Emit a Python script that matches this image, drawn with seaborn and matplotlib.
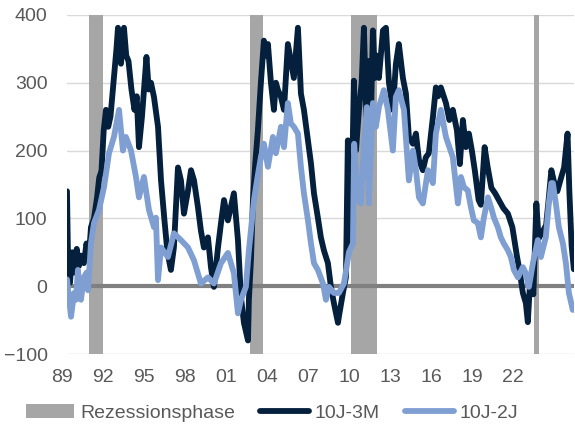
import pandas as pd
import seaborn as sns
import matplotlib.pyplot as plt
from matplotlib.patches import Patch
from matplotlib.lines import Line2D
from matplotlib.transforms import ScaledTranslation

# Zinsdifferenzen in Basispunkten
years_3m = [1989.00, 1989.07, 1989.20, 1989.35, 1989.50, 1989.65, 1989.80, 1989.93, 1990.13, 1990.30,
            1990.45, 1990.60, 1990.80, 1991.00, 1991.15, 1991.30, 1991.45, 1991.60, 1991.75, 1991.90,
            1992.10, 1992.30, 1992.40, 1992.60, 1992.80, 1992.95, 1993.10, 1993.30, 1993.50, 1993.65,
            1993.80, 1994.00, 1994.30, 1994.45, 1994.60, 1994.80, 1995.07, 1995.27, 1995.50, 1995.70,
            1995.93, 1996.13, 1996.40, 1996.60, 1996.80, 1997.07, 1997.27, 1997.47, 1997.73, 1997.93,
            1998.13, 1998.40, 1998.60, 1998.80, 1999.07, 1999.27, 1999.47, 1999.73, 1999.93, 2000.13,
            2000.40, 2000.60, 2000.80, 2001.07, 2001.13, 2001.27, 2001.40, 2001.55, 2001.73, 2001.93,
            2002.13, 2002.27, 2002.40, 2002.60, 2002.80, 2002.93, 2003.07, 2003.27, 2003.47, 2003.73,
            2003.93, 2004.13, 2004.40, 2004.60, 2004.80, 2005.07, 2005.27, 2005.47, 2005.73, 2005.93,
            2006.13, 2006.40, 2006.60, 2006.80, 2007.07, 2007.13, 2007.40, 2007.60, 2007.73, 2007.82,
            2007.95, 2008.13, 2008.27, 2008.47, 2008.65, 2008.80, 2009.00, 2009.13, 2009.25, 2009.40,
            2009.53, 2009.65, 2009.80, 2010.07, 2010.27, 2010.47, 2010.73, 2010.93, 2011.13, 2011.40,
            2011.60, 2011.80, 2012.07, 2012.27, 2012.47, 2012.73, 2012.93, 2013.13, 2013.40, 2013.60,
            2013.75, 2013.93, 2014.27, 2014.50, 2014.73, 2015.00, 2015.20, 2015.40, 2015.60, 2015.80,
            2016.00, 2016.20, 2016.45, 2016.60, 2016.85, 2017.05, 2017.30, 2017.55, 2017.80, 2018.10,
            2018.40, 2018.70, 2019.00, 2019.20, 2019.40, 2019.60, 2019.73, 2019.90, 2020.10, 2020.30,
            2020.45, 2020.70, 2020.95, 2021.15, 2021.30, 2021.50, 2021.70, 2021.95, 2022.15, 2022.38,
            2022.50, 2022.65, 2022.80]
spread_3m = [140, 40, 5, 50, 20, 55, 30, 45, 34, 63,
             40, 87, 100, 130, 160, 170, 230, 260, 235, 250,
             300, 350, 381, 328, 381, 340, 332, 290, 260, 280,
             205, 250, 338, 290, 300, 279, 235, 156, 97, 50,
             24, 57, 175, 156, 107, 141, 171, 156, 117, 82,
             57, 72, 28, -1, 57, 93, 127, 97, 117, 137,
             68, -16, -54, -80, -20, 40, 127, 180, 230, 300,
             362, 340, 357, 300, 260, 300, 289, 279, 260, 357,
             332, 307, 381, 284, 260, 215, 181, 137, 101, 72,
             53, 34, -1, -25, -54, -45, -10, 13, 215, 63,
             80, 303, 200, 260, 300, 381, 220, 332, 230, 377,
             307, 340, 307, 377, 381, 300, 260, 327, 357, 307,
             284, 220, 210, 225, 186, 171, 190, 196, 249, 293,
             280, 293, 270, 245, 260, 230, 180, 245, 205, 225,
             200, 170, 127, 120, 205, 176, 145, 137, 127, 115,
             107, 87, 45, 20, -10, -25, -53, 13, -12, 122,
             70, 80, 90, 135, 171, 152, 140, 160, 175, 225,
             140, 60, 25]

years_2j = [1989.00, 1989.07, 1989.27, 1989.47, 1989.60, 1989.73, 1989.93, 1990.13, 1990.30, 1990.40,
            1990.60, 1990.80, 1991.13, 1991.47, 1991.80, 1992.13, 1992.47, 1992.73, 1992.93, 1993.27,
            1993.60, 1993.80, 1994.13, 1994.47, 1994.80, 1994.93, 1995.07, 1995.27, 1995.50, 1995.73,
            1996.13, 1996.60, 1997.07, 1997.47, 1997.93, 1998.40, 1998.80, 1999.27, 1999.73, 2000.13,
            2000.40, 2000.60, 2000.93, 2001.13, 2001.47, 2001.70, 2001.93, 2002.13, 2002.40, 2002.73,
            2002.93, 2003.27, 2003.47, 2003.73, 2003.93, 2004.13, 2004.40, 2004.60, 2004.80, 2005.07,
            2005.27, 2005.47, 2005.73, 2006.07, 2006.27, 2006.47, 2006.80, 2007.13, 2007.47, 2007.80,
            2008.07, 2008.15, 2008.40, 2008.60, 2008.80, 2009.00, 2009.13, 2009.40, 2009.60, 2009.80,
            2010.13, 2010.40, 2010.73, 2010.93, 2011.13, 2011.47, 2011.80, 2012.07, 2012.27, 2012.47,
            2012.73, 2013.07, 2013.40, 2013.60, 2013.93, 2014.27, 2014.73, 2015.07, 2015.27, 2015.47,
            2015.73, 2015.93, 2016.13, 2016.40, 2016.60, 2016.80, 2017.07, 2017.27, 2017.47, 2017.73,
            2017.93, 2018.13, 2018.40, 2018.60, 2018.80, 2019.07, 2019.40, 2019.60, 2019.80, 2020.07,
            2020.40, 2020.60, 2020.93, 2021.13, 2021.30, 2021.40, 2021.60, 2021.80, 2022.07, 2022.27,
            2022.47, 2022.73]
spread_2j = [10, -5, -45, -10, -20, 24, -20, 13, 20, -6,
             63, 93, 112, 146, 196, 220, 260, 200, 220, 200,
             161, 131, 161, 112, 87, 101, 9, 57, 50, 43,
             78, 68, 57, 38, 4, 13, 4, 34, 49, 19,
             -40, -20, -1, 53, 127, 160, 190, 210, 176, 220,
             196, 235, 205, 270, 240, 235, 225, 176, 137, 97,
             63, 34, 24, 4, -20, -1, -10, -10, 4, 50,
             63, 210, 127, 122, 210, 264, 122, 270, 235, 264,
             289, 260, 200, 279, 289, 260, 156, 200, 171, 131,
             122, 171, 152, 225, 260, 220, 190, 122, 161, 146,
             141, 117, 97, 93, 72, 101, 131, 117, 101, 87,
             72, 63, 53, 43, 24, 13, 28, 19, -1, 34,
             68, 43, 72, 122, 152, 152, 122, 87, 63, 34,
             -10, -35]

rec_start = [1990.47, 2001.20, 2007.95, 2020.13]
rec_end = [1991.37, 2002.10, 2009.70, 2020.50]

tick_labels = ['89', '92', '95', '98', '01', '04', '07', '10', '13', '16', '19', '22']

df_3m = pd.DataFrame({'jahr': years_3m, 'bp': spread_3m})
df_2j = pd.DataFrame({'jahr': years_2j, 'bp': spread_2j})

sns.set_style('white')
plt.rcParams['font.family'] = ['Liberation Sans', 'DejaVu Sans']
text_col = '#595959'
dark = '#04203D'
light = '#7F9FD3'
rec_col = '#A6A6A6'
lw = 4.2

fig = plt.figure(figsize=(5.75, 4.25), dpi=100)
ax = fig.add_axes([0.1165, 0.167, 0.8815, 0.798])

ax.set_ylim(-100, 400)
ax.set_xlim(1989.0, 2022.8)
ax.set_yticks([-100, 0, 100, 200, 300, 400])
ax.grid(axis='y', color='#D9D9D9', lw=1)
ax.set_axisbelow(True)

for s, e in zip(rec_start, rec_end):
    ax.axvspan(s, e, color=rec_col, lw=0, zorder=1)
ax.axhline(0, color='#808080', lw=3, zorder=2)

sns.lineplot(data=df_3m, x='jahr', y='bp', color=dark, lw=lw, ax=ax, zorder=3)
sns.lineplot(data=df_2j, x='jahr', y='bp', color=light, lw=lw, ax=ax, zorder=4)

# Achsenbeschriftung wie in der Vorlage verteilt
step = 41 / 15
ax.set_xticks([1989.0 + i * step for i in range(len(tick_labels))])
ax.set_xticklabels(tick_labels)
ax.set_xlabel('')
ax.set_ylabel('')
ax.tick_params(axis='both', length=0, labelsize=14, labelcolor=text_col)
ax.tick_params(axis='y', pad=14)
ax.tick_params(axis='x', pad=11)
shift = ScaledTranslation(-5 / 100, 0, fig.dpi_scale_trans)
for lab in ax.get_xticklabels():
    lab.set_transform(lab.get_transform() + shift)
sns.despine(ax=ax, left=True, bottom=True)

handles = [Patch(facecolor=rec_col, edgecolor='none'),
           Line2D([], [], color=dark, lw=lw),
           Line2D([], [], color=light, lw=lw)]
fig.legend(handles, ['Rezessionsphase', '10J-3M', '10J-2J'], loc='center',
           bbox_to_anchor=(272 / 575, 1 - 413 / 425), ncol=3, frameon=False,
           fontsize=14, handlelength=2.5, handletextpad=0.3, columnspacing=1.3,
           labelcolor=text_col)

fig.savefig('out.png', dpi=100)
